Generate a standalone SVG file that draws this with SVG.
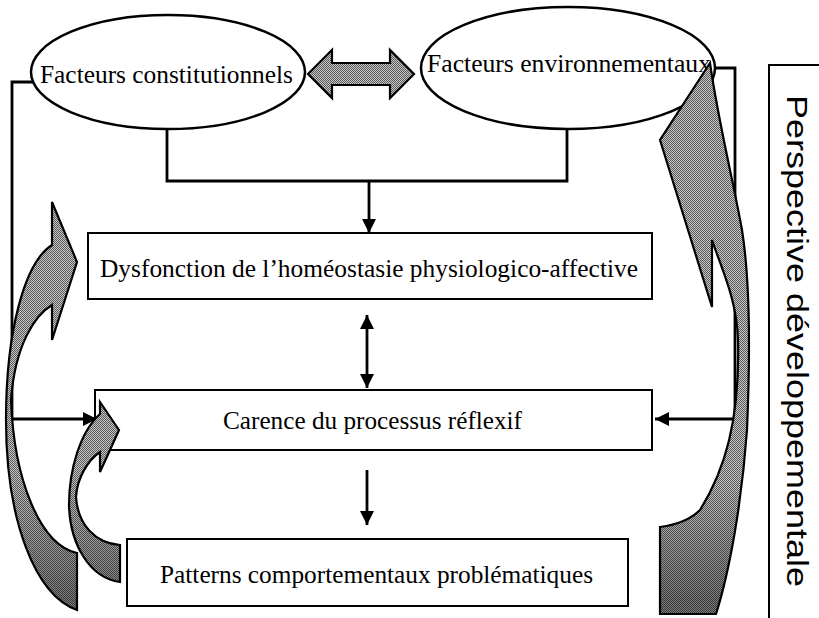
<svg xmlns="http://www.w3.org/2000/svg" width="819" height="618" viewBox="0 0 819 618">
  <style>
    .shape { fill: #ffffff; stroke: #000000; stroke-width: 2; }
    .oval { fill: #ffffff; stroke: #000000; stroke-width: 2.5; }
    .label { font-family: "Liberation Serif", "Times New Roman", serif; font-size: 25px; fill: #000000; }
    .side { font-family: "Liberation Sans", Arial, sans-serif; font-size: 29px; fill: #000000; }
    .conn { fill: none; stroke: #000000; stroke-width: 2.8; }
    .outline { fill: none; stroke: #000000; stroke-width: 2.2; stroke-linejoin: miter; }
  </style>
  <defs>
    <!-- dithered grey fill for the broad feedback arrows -->
    <pattern id="grain" width="2" height="2" patternUnits="userSpaceOnUse">
      <rect width="2" height="2" fill="#c8c8c8"/>
      <rect width="1" height="1" fill="#585858"/>
      <rect x="1" y="1" width="1" height="1" fill="#585858"/>
    </pattern>
    <!-- darker folded-back part towards the tails -->
    <linearGradient id="shadeLeft" gradientUnits="userSpaceOnUse" x1="0" y1="470" x2="0" y2="600">
      <stop offset="0" stop-color="#000000" stop-opacity="0"/>
      <stop offset="1" stop-color="#000000" stop-opacity="0.38"/>
    </linearGradient>
    <linearGradient id="shadeRight" gradientUnits="userSpaceOnUse" x1="0" y1="480" x2="0" y2="600">
      <stop offset="0" stop-color="#000000" stop-opacity="0"/>
      <stop offset="1" stop-color="#000000" stop-opacity="0.38"/>
    </linearGradient>
    <marker id="tip" viewBox="0 0 14 14" refX="14" refY="7" markerWidth="14" markerHeight="14" markerUnits="userSpaceOnUse" orient="auto-start-reverse">
      <path d="M0,0 L14,7 L0,14 Z" fill="#000000"/>
    </marker>
    <!-- curved feedback arrows -->
    <path id="curveOuter" d="M52,245 L52,202 L77,262 L52,340 L52,305 C35,315 15,345 11,400 C14,480 40,545 77,553 L77,610 C35,595 6,520 6,420 C6,330 25,262 52,245 Z"/>
    <path id="curveInner" d="M100,414 L100,402 L119,430 L100,472 L100,452 C88,460 77,478 76,497 C78,525 95,543 120,545 L120,582 C90,578 70,545 69,505 C69,470 80,432 100,414 Z"/>
    <path id="curveRight" d="M710,63 L660,140 L712,307 L712,240 C722,270 737,300 738,340 C740,420 725,470 700,510 C690,520 675,525 660,527 L660,614 L716,614 C730,570 742,500 747,430 C750,360 750,280 742,230 C733,180 718,120 710,63 Z"/>
  </defs>

  <!-- side frame -->
  <g id="perspective">
    <path d="M819,65 H769 V618" fill="none" stroke="#000000" stroke-width="2"/>
    <text class="side" transform="translate(787,95) rotate(90)" textLength="492" lengthAdjust="spacingAndGlyphs">Perspective développementale</text>
  </g>

  <g id="facteurs-constitutionnels">
    <ellipse class="oval" cx="168" cy="72" rx="137" ry="57"/>
    <text class="label" x="40" y="83" textLength="253" lengthAdjust="spacingAndGlyphs">Facteurs constitutionnels</text>
  </g>

  <g id="facteurs-environnementaux">
    <ellipse class="oval" cx="568" cy="68" rx="147" ry="61"/>
    <text class="label" x="427" y="72" textLength="284" lengthAdjust="spacingAndGlyphs">Facteurs environnementaux</text>
  </g>

  <g id="dysfonction">
    <rect class="shape" x="88" y="233" width="564" height="66"/>
    <text class="label" x="100" y="277" textLength="538" lengthAdjust="spacingAndGlyphs">Dysfonction de l’homéostasie physiologico-affective</text>
  </g>

  <g id="carence">
    <rect class="shape" x="95" y="390" width="557" height="60"/>
    <text class="label" x="223" y="429" textLength="299" lengthAdjust="spacingAndGlyphs">Carence du processus réflexif</text>
  </g>

  <g id="patterns">
    <rect class="shape" x="127" y="539" width="501" height="67"/>
    <text class="label" x="160" y="583" textLength="433" lengthAdjust="spacingAndGlyphs">Patterns comportementaux problématiques</text>
  </g>

  <g id="connectors">
    <path class="conn" d="M167,130 V181 H567 V130"/>
    <path class="conn" d="M369,181 V233" marker-end="url(#tip)"/>
    <path class="conn" d="M367,315 V388" marker-start="url(#tip)" marker-end="url(#tip)"/>
    <path class="conn" d="M367,470 V525" marker-end="url(#tip)"/>
    <path class="conn" d="M33,82 H12 V419 H97" marker-end="url(#tip)"/>
    <path class="conn" d="M714,68 H735 V419 H655" marker-end="url(#tip)"/>
  </g>

  <g id="feedback-arrows">
    <!-- two-way arrow between the two kinds of factors -->
    <path d="M308,74 L332,50 L332,63 L390,63 L390,50 L414,74 L390,98 L390,85 L332,85 L332,98 Z" fill="url(#grain)" stroke="#000000" stroke-width="2.2"/>

    <use href="#curveOuter" fill="url(#grain)"/>
    <use href="#curveOuter" fill="url(#shadeLeft)"/>
    <use href="#curveOuter" class="outline"/>

    <use href="#curveInner" fill="url(#grain)"/>
    <use href="#curveInner" fill="url(#shadeLeft)"/>
    <use href="#curveInner" class="outline"/>

    <use href="#curveRight" fill="url(#grain)"/>
    <use href="#curveRight" fill="url(#shadeRight)"/>
    <use href="#curveRight" class="outline"/>
  </g>
</svg>
